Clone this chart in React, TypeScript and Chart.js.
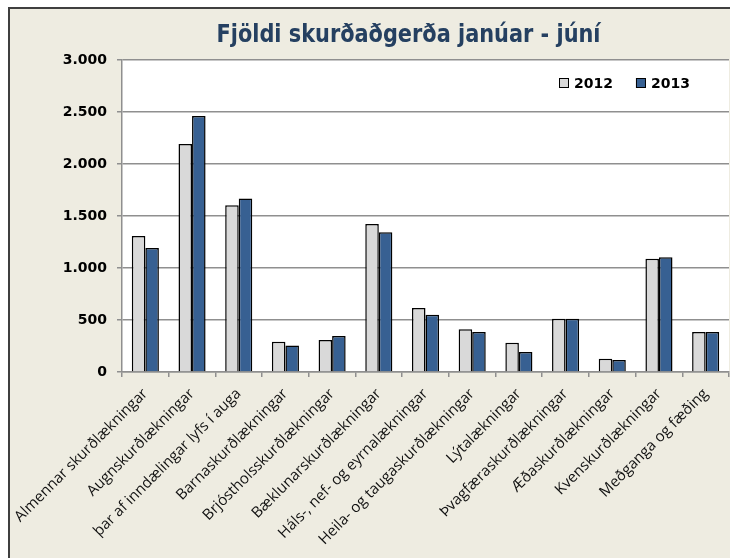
import React, { useEffect, useRef } from "react";
import { Chart, registerables } from "chart.js";

Chart.register(...registerables);

const categories: string[] = [
  "Almennar skurðlækningar",
  "Augnskurðlækningar",
  "þar af inndælingar lyfs í auga",
  "Barnaskurðlækningar",
  "Brjóstholsskurðlækningar",
  "Bæklunarskurðlækningar",
  "Háls-, nef- og eyrnalækningar",
  "Heila- og taugaskurðlækningar",
  "Lýtalækningar",
  "Þvagfæraskurðlækningar",
  "Æðaskurðlækningar",
  "Kvenskurðlækningar",
  "Meðganga og fæðing",
];

const values2012: number[] = [1308, 2192, 1603, 291, 308, 1423, 615, 410, 282, 513, 128, 1090, 385];
const values2013: number[] = [1192, 2462, 1668, 256, 346, 1343, 551, 385, 192, 513, 115, 1103, 385];

const seriesLabels: string[] = ["2012", "2013"];
const yTicks: number[] = [0, 500, 1000, 1500, 2000, 2500, 3000];
const titleText = "Fjöldi skurðaðgerða janúar - júní";

const W = 722;
const H = 551;
const BG = "#EEECE1";
const GRID = "#8f8f8f";
const COLORS = ["#D9D9D9", "#376092"];

function fmt(v: number): string {
  const s = Math.round(v).toString();
  return s.replace(/\B(?=(\d{3})+(?!\d))/g, ".");
}

const decorPlugin = {
  id: "decor",
  beforeDraw(chart: any) {
    const { ctx, chartArea } = chart;
    ctx.save();
    ctx.fillStyle = BG;
    ctx.fillRect(0, 0, chart.width, chart.height);
    ctx.fillStyle = "#3f3f3f";
    ctx.fillRect(0, 0, 2, chart.height);
    ctx.fillRect(0, 0, chart.width, 2);
    ctx.fillStyle = "#ffffff";
    ctx.fillRect(chartArea.left, chartArea.top, chartArea.right - chartArea.left, chartArea.bottom - chartArea.top);
    ctx.restore();
  },
  afterDraw(chart: any) {
    const { ctx } = chart;
    ctx.save();
    ctx.font = "bold 25px 'DejaVu Sans'";
    ctx.fillStyle = "#254061";
    ctx.textBaseline = "alphabetic";
    ctx.textAlign = "center";
    const tw = ctx.measureText(titleText).width;
    const target = 384;
    const sx = target / tw;
    ctx.translate(400.5, 34.7);
    ctx.scale(sx, 1);
    ctx.fillText(titleText, 0, 0);
    ctx.restore();

    ctx.save();
    ctx.font = "bold 14px 'DejaVu Sans'";
    ctx.textBaseline = "middle";
    ctx.textAlign = "left";
    let x = 551;
    const cy = 76;
    chart.data.datasets.forEach((ds: any) => {
      ctx.fillStyle = ds.backgroundColor;
      ctx.fillRect(x, cy - 5, 10, 10);
      ctx.strokeStyle = "#000";
      ctx.lineWidth = 1;
      ctx.strokeRect(x + 0.5, cy - 4.5, 9, 9);
      ctx.fillStyle = "#000";
      ctx.fillText(ds.label, x + 15, cy + 1);
      const w = ctx.measureText(ds.label).width;
      x += 15 + w + 23;
    });
    ctx.restore();
  },
};

export default function App() {
  const ref = useRef<HTMLCanvasElement | null>(null);
  useEffect(() => {
    if (!ref.current) return;
    const chart = new Chart(ref.current, {
      type: "bar",
      data: {
        labels: categories,
        datasets: [
          {
            label: seriesLabels[0],
            data: values2012,
            backgroundColor: COLORS[0],
            borderColor: "#000",
            borderWidth: 1.5,
            categoryPercentage: 0.58,
            barPercentage: 1,
          },
          {
            label: seriesLabels[1],
            data: values2013,
            backgroundColor: COLORS[1],
            borderColor: "#000",
            borderWidth: 1.5,
            categoryPercentage: 0.58,
            barPercentage: 1,
          },
        ],
      },
      options: {
        responsive: false,
        animation: false,
        devicePixelRatio: 1,
        layout: { padding: { top: 53, right: 1, left: 0, bottom: 0 } },
        plugins: {
          legend: { display: false },
          title: { display: false },
          tooltip: { enabled: false },
        },
        scales: {
          x: {
            offset: true,
            grid: {
              drawOnChartArea: false,
              drawTicks: true,
              tickLength: 5,
              color: GRID,
              lineWidth: 1.5,
              offset: true,
            },
            border: { display: true, color: GRID, width: 1.5 },
            ticks: {
              autoSkip: false,
              minRotation: 45,
              maxRotation: 45,
              padding: 8,
              color: "#111",
              font: { family: "'Open Sans'", size: 15 },
            },
            afterFit(scale: any) {
              scale.height = 186;
              scale.paddingLeft = 0;
              scale.paddingRight = 0;
            },
          },
          y: {
            min: 0,
            max: 3000,
            afterBuildTicks(scale: any) {
              scale.ticks = yTicks.map((v) => ({ value: v }));
            },
            grid: {
              color: GRID,
              lineWidth: 1.5,
              tickLength: 5,
              drawTicks: true,
            },
            border: { display: true, color: GRID, width: 1.5 },
            ticks: {
              padding: 10,
              color: "#000",
              font: { family: "'DejaVu Sans'", size: 14, weight: "bold" },
              callback: (v: any) => fmt(Number(v)),
            },
            afterFit(scale: any) {
              scale.width = 114;
              scale.paddingTop = 0;
              scale.paddingBottom = 0;
            },
          },
        },
      },
      plugins: [decorPlugin],
    } as any);
    return () => chart.destroy();
  }, []);
  return (
    <div style={{ position: "absolute", left: 8, top: 7, width: W, height: H }}>
      <canvas ref={ref} width={W} height={H} style={{ display: "block", width: W, height: H }} />
    </div>
  );
}
